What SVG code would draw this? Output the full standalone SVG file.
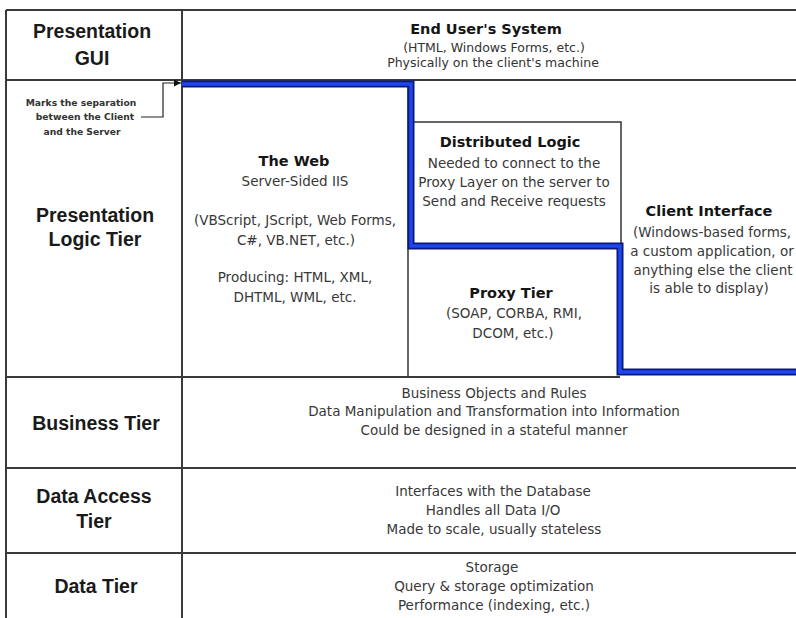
<svg xmlns="http://www.w3.org/2000/svg" width="796" height="618" viewBox="0 0 796 618">
<style>
.grid{stroke:#3a3a3a;stroke-width:2;fill:none}
.thin{stroke:#333;stroke-width:1.5;fill:none}
.tier{font-family:"Liberation Sans",Arial,sans-serif;font-weight:bold;font-size:19.5px;fill:#1a1a1a;text-anchor:middle}
.head{font-family:"DejaVu Sans",Verdana,sans-serif;font-weight:bold;font-size:14.5px;fill:#151515;text-anchor:middle}
.body{font-family:"DejaVu Sans",Verdana,sans-serif;font-size:13.5px;fill:#383838;text-anchor:middle}
.small{font-family:"DejaVu Sans",Verdana,sans-serif;font-size:12.5px;fill:#333;text-anchor:middle}
.note{font-family:"DejaVu Sans",Verdana,sans-serif;font-weight:bold;font-size:9.2px;fill:#333;text-anchor:middle}
.blueOut{stroke:#0b1a7a;stroke-width:7;fill:none;stroke-linejoin:miter}
.blueIn{stroke:#1f45f0;stroke-width:3.5;fill:none;stroke-linejoin:miter}
</style>
<defs>
<marker id="arr" markerWidth="8" markerHeight="8" refX="7" refY="4" orient="auto" markerUnits="userSpaceOnUse">
<path d="M0,0.5 L7,4 L0,7.5 z" fill="#111"/>
</marker>
</defs>
<rect width="796" height="618" fill="#fff"/>

<g id="grid">
<line class="grid" x1="6" y1="10" x2="796" y2="10"/>
<line class="grid" x1="6" y1="80" x2="796" y2="80"/>
<line class="grid" x1="6" y1="377" x2="620" y2="377"/>
<line class="grid" x1="6" y1="468" x2="796" y2="468"/>
<line class="grid" x1="6" y1="553" x2="796" y2="553"/>
<line class="grid" x1="6" y1="10" x2="6" y2="618"/>
<line class="grid" x1="182" y1="10" x2="182" y2="618"/>
<line class="thin" x1="408" y1="80" x2="408" y2="377"/>
<polyline class="thin" points="412,122 621,122 621,246"/>
</g>

<g id="presentation-gui">
<text class="tier" x="92" y="38">Presentation</text>
<text class="tier" x="92" y="65">GUI</text>
</g>
<g id="end-users-system">
<text class="head" x="486" y="34">End User's System</text>
<text class="small" x="494" y="52">(HTML, Windows Forms, etc.)</text>
<text class="small" x="493" y="67">Physically on the client's machine</text>
</g>

<g id="presentation-logic-tier">
<text class="tier" x="95" y="222">Presentation</text>
<text class="tier" x="95" y="246">Logic Tier</text>
</g>
<g id="the-web">
<text class="head" x="294" y="166">The Web</text>
<text class="body" x="295" y="186">Server-Sided IIS</text>
<text class="body" x="295" y="225">(VBScript, JScript, Web Forms,</text>
<text class="body" x="296" y="245">C#, VB.NET, etc.)</text>
<text class="body" x="295" y="282">Producing: HTML, XML,</text>
<text class="body" x="295" y="302">DHTML, WML, etc.</text>
</g>
<g id="distributed-logic">
<text class="head" x="510" y="147">Distributed Logic</text>
<text class="body" x="514" y="168">Needed to connect to the</text>
<text class="body" x="514" y="187">Proxy Layer on the server to</text>
<text class="body" x="514" y="206">Send and Receive requests</text>
</g>
<g id="proxy-tier">
<text class="head" x="511" y="298">Proxy Tier</text>
<text class="body" x="514" y="318">(SOAP, CORBA, RMI,</text>
<text class="body" x="513" y="338">DCOM, etc.)</text>
</g>
<g id="client-interface">
<text class="head" x="709" y="216">Client Interface</text>
<text class="body" x="712" y="237">(Windows-based forms,</text>
<text class="body" x="712" y="256">a custom application, or</text>
<text class="body" x="713" y="275">anything else the client</text>
<text class="body" x="709" y="293">is able to display)</text>
</g>
<g id="separation-note">
<text class="note" x="81" y="106">Marks the separation</text>
<text class="note" x="85" y="120">between the Client</text>
<text class="note" x="82" y="135">and the Server</text>
</g>

<g id="business-tier">
<text class="tier" x="96" y="430">Business Tier</text>
<text class="body" x="494" y="398">Business Objects and Rules</text>
<text class="body" x="494" y="416">Data Manipulation and Transformation into Information</text>
<text class="body" x="494" y="435">Could be designed  in a stateful manner</text>
</g>
<g id="data-access-tier">
<text class="tier" x="94" y="503">Data Access</text>
<text class="tier" x="94" y="528">Tier</text>
<text class="body" x="493" y="496">Interfaces with the Database</text>
<text class="body" x="493" y="515">Handles all Data I/O</text>
<text class="body" x="494" y="534">Made to scale, usually stateless</text>
</g>
<g id="data-tier">
<text class="tier" x="96" y="593">Data Tier</text>
<text class="body" x="492" y="572">Storage</text>
<text class="body" x="494" y="591">Query &amp; storage optimization</text>
<text class="body" x="494" y="610">Performance (indexing, etc.)</text>
</g>

<g id="connectors">
<polyline class="blueOut" points="182,84 411,84 411,246 620,246 620,372 796,372"/>
<polyline class="blueIn" points="182,84 411,84 411,246 620,246 620,372 796,372"/>
<polyline points="141,117 163,117 163,83 181,83" fill="none" stroke="#222" stroke-width="1.2" marker-end="url(#arr)"/>
</g>
</svg>
